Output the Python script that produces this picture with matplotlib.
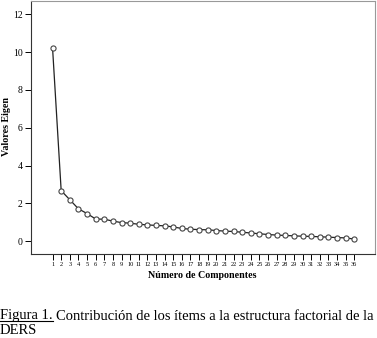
import matplotlib
matplotlib.use("Agg")
import matplotlib.pyplot as plt
from matplotlib.lines import Line2D

componentes = list(range(1, 37))
valores_eigen = [10.22, 2.67, 2.19, 1.71, 1.46, 1.17, 1.16, 1.06, 0.98, 0.95,
                 0.89, 0.86, 0.83, 0.81, 0.75, 0.67, 0.63, 0.61, 0.60, 0.56,
                 0.53, 0.51, 0.47, 0.43, 0.39, 0.35, 0.32, 0.30, 0.28, 0.26,
                 0.25, 0.23, 0.21, 0.19, 0.17, 0.11]
y_ticks = [0, 2, 4, 6, 8, 10, 12]
x_label = "Número de Componentes"
y_label = "Valores Eigen"

plt.rcParams['font.family'] = ['Liberation Serif', 'DejaVu Serif']

W, H = 377, 338
fig = plt.figure(figsize=(W / 100, H / 100), dpi=100)
ax = fig.add_axes([31 / W, 1 - 254 / H, (375 - 31) / W, (254 - 1) / H])

ax.plot(componentes, valores_eigen, color='#222222', lw=0.9,
        marker='o', ms=3.7, mfc='white', mec='#444444', mew=0.8)

ax.set_xlim(-1.5, 38.4)
ax.set_ylim(-0.68, 12.7)
ax.set_xticks(componentes)
ax.set_xticklabels([str(c) for c in componentes], fontsize=4.6)
ax.set_yticks(y_ticks)
ax.set_yticklabels([str(v) for v in y_ticks], fontsize=7)
ax.tick_params(axis='x', length=4.5, width=0.7, pad=1.5, direction='out')
ax.tick_params(axis='y', length=4, width=0.7, pad=2, direction='out')
for s in ax.spines.values():
    s.set_linewidth(0.8)
    s.set_color('#333333')
ax.spines['right'].set_color('#999999')
ax.spines['top'].set_color('#999999')

fig.text(202 / W, 1 - 275 / H, x_label, fontsize=7.2, fontweight='bold',
         ha='center', va='center')
fig.text(7 / W, 1 - 127 / H, y_label, fontsize=7.2, fontweight='bold',
         rotation=90, ha='center', va='center')

fs = 10.55
cap_y = 1 - 316 / H
t1 = fig.text(0.0 / W, cap_y, "Figura 1.", fontsize=fs, ha='left', va='center')
fig.canvas.draw()
r = fig.canvas.get_renderer()
bb = t1.get_window_extent(renderer=r)
x_end = bb.x1 / W
fig.text(x_end + 3 / W, cap_y,
         "Contribución de los ítems a la estructura factorial de la",
         fontsize=fs, ha='left', va='center')
uy = (bb.y0 + 2) / H
fig.add_artist(Line2D([bb.x0 / W, bb.x1 / W], [uy, uy], color='black', lw=0.8,
                      transform=fig.transFigure))
fig.text(0.0 / W, 1 - 331 / H, "DERS", fontsize=fs, ha='left', va='center')

fig.savefig("out.png", dpi=100)
